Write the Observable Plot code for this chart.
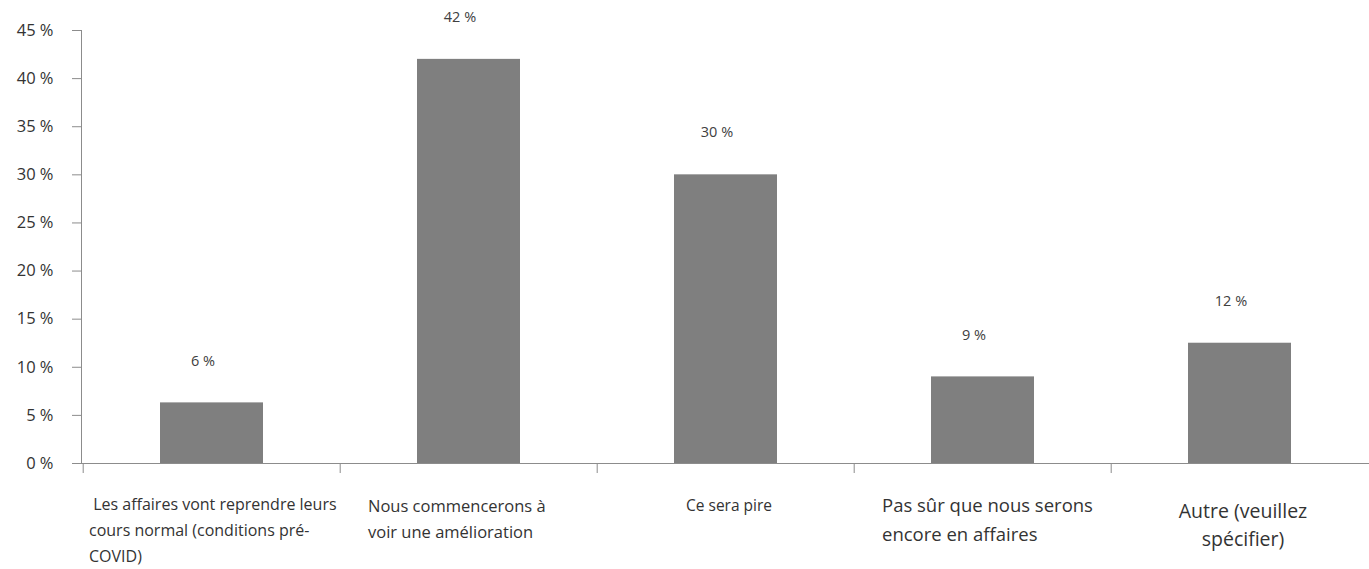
<!DOCTYPE html>
<html><head><meta charset="utf-8">
<script src="https://cdn.jsdelivr.net/npm/d3@7"></script>
<script src="https://cdn.jsdelivr.net/npm/@observablehq/plot@0.6"></script>
<style>body{margin:0;background:#fff}</style>
</head><body><div id="chart"></div>
<script>
const categories = [
  " Les affaires vont reprendre leurs\ncours normal (conditions pré-\nCOVID)",
  "Nous commencerons à\nvoir une amélioration",
  "Ce sera pire",
  "Pas sûr que nous serons\nencore en affaires",
  "Autre (veuillez\nspécifier)"
];
const values = [6.3, 42.0, 30.0, 9.0, 12.5];
const valueLabels = ["6 %", "42 %", "30 %", "9 %", "12 %"];
const yTicks = [0, 5, 10, 15, 20, 25, 30, 35, 40, 45];

const data = categories.map((c, i) => ({cat: c, value: values[i], label: valueLabels[i]}));

const W = 1369, H = 569, ML = 81, MR = 0;
const step = (W - ML - MR) / categories.length;

const labelStyles = [
  {textAnchor: "start", dx: -123, fontSize: 16, dy: 28, lineHeight: 1.62},
  {textAnchor: "start", dx: -101, fontSize: 16.5, dy: 29.5, lineHeight: 1.6},
  {textAnchor: "middle", dx: 3, fontSize: 15.5, dy: 29.5, lineHeight: 1.6},
  {textAnchor: "start", dx: -101, fontSize: 18.5, dy: 29, lineHeight: 1.52},
  {textAnchor: "middle", dx: 3, fontSize: 19.5, dy: 34.5, lineHeight: 1.44}
];

const catMarks = data.map((d, i) => Plot.text([d], {
  x: "cat", text: "cat", frameAnchor: "bottom", lineAnchor: "top",
  fill: "#333", ...labelStyles[i]
}));

const chart = Plot.plot({
  width: W, height: H,
  marginLeft: ML, marginRight: MR, marginTop: 30, marginBottom: 106,
  style: {fontFamily: "'Open Sans', Lato, sans-serif", background: "#fff"},
  x: {domain: categories, paddingInner: 0.6, paddingOuter: 0.3, axis: null, label: null},
  y: {domain: [0, 45], axis: null, label: null},
  marks: [
    Plot.barY(data, {x: "cat", y: "value", fill: "#7f7f7f"}),
    Plot.text(data, {x: "cat", y: "value", text: "label", dy: -42, dx: -9, fontSize: 14.5, fill: "#404040"}),
    Plot.axisY({ticks: yTicks, tickFormat: d => `${d} %`, tickSize: 9, tickPadding: 19, fontSize: 16.5, stroke: "#8c8c8c", fill: "#333", label: null}),
    Plot.axisX({ticks: categories, tickSize: 10, tickFormat: () => "", dx: -step / 2, stroke: "#8c8c8c", label: null}),
    Plot.frame({anchor: "left", stroke: "#8c8c8c"}),
    Plot.ruleY([0], {stroke: "#8c8c8c"}),
    ...catMarks
  ]
});
document.getElementById("chart").append(chart);
</script></body></html>
